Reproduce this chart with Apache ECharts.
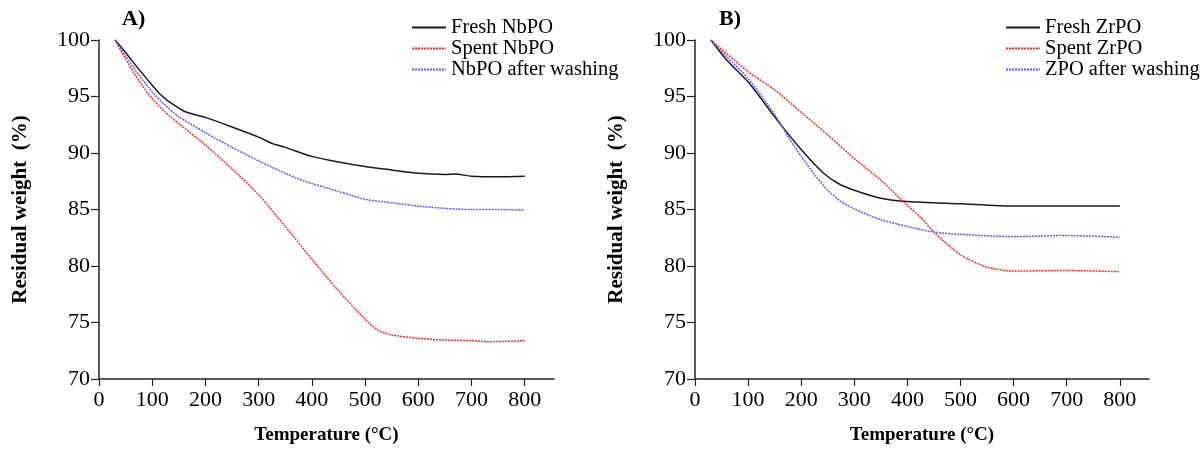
<!DOCTYPE html>
<html>
<head>
<meta charset="utf-8">
<script src="https://cdn.jsdelivr.net/npm/echarts@6/dist/echarts.min.js"></script>
<style>html,body{margin:0;padding:0;background:#fff}#c{width:1200px;height:450px}</style>
</head>
<body>
<div id="c"></div>
<script>
// ---- Data ----
const xTicks = [0,100,200,300,400,500,600,700,800];
const yTicks = [70,75,80,85,90,95,100];

const freshNbT = [30,50,75,100,115,130,160,200,250,300,325,350,400,450,500,550,600,650,670,700,750,800];
const freshNbY = [100,98.9,97.4,96.0,95.2,94.6,93.7,93.15,92.3,91.4,90.85,90.5,89.7,89.2,88.8,88.5,88.2,88.1,88.15,87.95,87.9,87.95];

const spentNbT = [30,50,75,100,125,150,200,250,300,350,400,450,500,525,550,600,650,700,730,800];
const spentNbY = [100,98.3,96.4,94.8,93.6,92.6,90.7,88.6,86.3,83.5,80.6,77.8,75.3,74.3,73.9,73.6,73.45,73.4,73.3,73.4];

const washNbT = [30,50,75,100,125,150,200,250,300,350,375,400,450,500,550,600,650,700,750,800];
const washNbY = [100,98.6,96.9,95.4,94.2,93.2,91.8,90.5,89.3,88.2,87.7,87.3,86.6,85.9,85.6,85.3,85.1,85.0,85.0,84.95];

const freshZrT = [30,60,100,150,200,240,270,300,350,400,500,600,700,800];
const freshZrY = [100,98.2,96.3,93.2,90.3,88.3,87.3,86.7,86.0,85.7,85.5,85.3,85.3,85.3];

const spentZrT = [30,100,150,200,250,300,350,390,425,450,500,550,600,700,800];
const spentZrY = [100,97.2,95.6,93.6,91.6,89.5,87.6,85.8,84.3,83.0,81.0,79.9,79.55,79.6,79.5];

const washZrT = [30,60,100,150,180,200,225,250,275,300,350,400,450,500,600,700,800];
const washZrY = [100,98.5,96.6,93.4,91.1,89.7,88.1,86.7,85.7,85.05,84.1,83.5,83.0,82.8,82.6,82.7,82.55];

const namesA = ['Fresh NbPO','Spent NbPO','NbPO after washing'];
const namesB = ['Fresh ZrPO','Spent ZrPO','ZPO after washing'];

// ---- Build ----
const FONT = "'Liberation Serif','Times New Roman',serif";
const zip = (t, y) => t.map((v, i) => [v, y[i]]);
const axisCol = '#222';

function xAxis(idx) {
  return {
    type: 'value', gridIndex: idx, min: 0, max: 855,
    name: 'Temperature (°C)', nameLocation: 'middle', nameGap: 47,
    nameTextStyle: {fontFamily: FONT, fontWeight: 'bold', fontSize: 19, color: '#000'},
    axisLine: {lineStyle: {color: axisCol, width: 1.5}},
    axisTick: {show: true, length: 7, lineStyle: {color: axisCol, width: 1.2}, customValues: xTicks},
    axisLabel: {fontFamily: FONT, fontSize: 22, color: '#000', margin: 10, customValues: xTicks},
    splitLine: {show: false}
  };
}
function yAxis(idx) {
  return {
    type: 'value', gridIndex: idx, min: 70, max: 100, interval: 5,
    name: 'Residual weight  (%)', nameLocation: 'middle', nameGap: 68,
    nameTextStyle: {fontFamily: FONT, fontWeight: 'bold', fontSize: 21, color: '#000'},
    axisLine: {show: true, lineStyle: {color: axisCol, width: 1.5}},
    axisTick: {show: true, length: 8, lineStyle: {color: axisCol, width: 1.2}},
    axisLabel: {fontFamily: FONT, fontSize: 22, color: '#000', margin: 9},
    splitLine: {show: false}
  };
}
function line(name, t, y, idx, color, type) {
  return {
    name, type: 'line', xAxisIndex: idx, yAxisIndex: idx,
    data: zip(t, y), showSymbol: false, symbol: 'none', smooth: 0.25,
    lineStyle: {color, width: 1.5, type},
    itemStyle: {color}, z: 3
  };
}
function legend(names, left) {
  return {
    data: names, orient: 'vertical', left, top: 17, padding: 0, itemGap: 0,
    itemWidth: 34, itemHeight: 12,
    itemStyle: {opacity: 0},
    textStyle: {fontFamily: FONT, fontSize: 20.5, color: '#000', lineHeight: 20},
    selectedMode: false
  };
}

const chart = echarts.init(document.getElementById('c'), null, {renderer: 'canvas'});
chart.setOption({
  animation: false,
  backgroundColor: '#fff',
  grid: [
    {left: 99, top: 40, width: 455, height: 341},
    {left: 695, top: 40, width: 454, height: 341}
  ],
  xAxis: [xAxis(0), xAxis(1)],
  yAxis: [yAxis(0), yAxis(1)],
  legend: [legend(namesA, 411), legend(namesB, 1005)],
  graphic: [
    {type: 'text', left: 122, top: 8, style: {text: 'A)', font: "bold 22px 'Liberation Serif', serif", fill: '#000'}},
    {type: 'text', left: 719, top: 8, style: {text: 'B)', font: "bold 22px 'Liberation Serif', serif", fill: '#000'}}
  ],
  series: [
    line(namesA[0], freshNbT, freshNbY, 0, '#1a1a1a', 'solid'),
    line(namesA[1], spentNbT, spentNbY, 0, '#ff2a2a', [2, 1]),
    line(namesA[2], washNbT, washNbY, 0, '#5a5aff', [2, 1]),
    line(namesB[0], freshZrT, freshZrY, 1, '#1a1a1a', 'solid'),
    line(namesB[1], spentZrT, spentZrY, 1, '#ff2a2a', [2, 1]),
    line(namesB[2], washZrT, washZrY, 1, '#5a5aff', [2, 1])
  ]
});
</script>
</body>
</html>
